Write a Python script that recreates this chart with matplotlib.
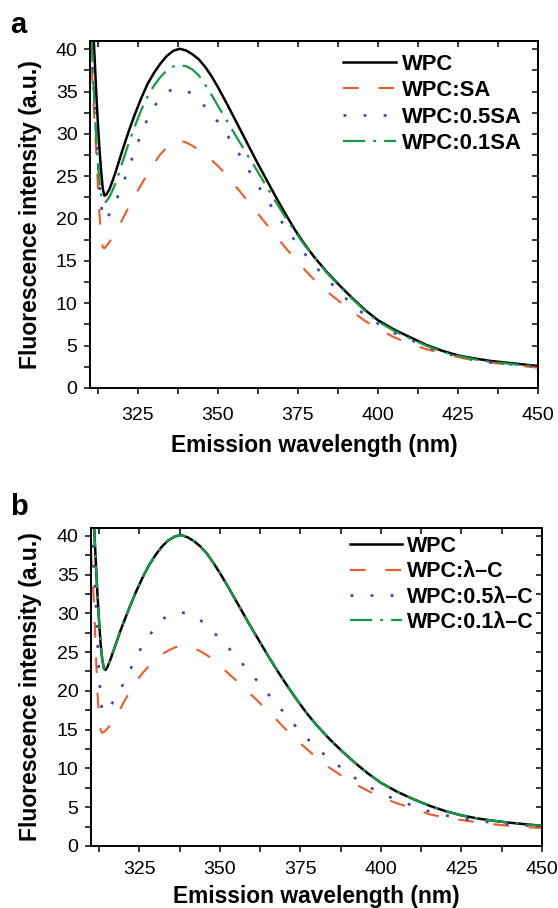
import matplotlib
matplotlib.use("Agg")
import matplotlib.pyplot as plt
from matplotlib.ticker import MultipleLocator

plt.rcParams['font.family'] = ['Liberation Sans', 'DejaVu Sans']

# ---------------- data ----------------
wavelength = [310, 310.5, 311, 311.5, 312, 312.5, 313, 313.5, 314, 314.5, 315,
              316, 317, 318, 319, 320, 322, 324, 326, 328, 330, 332, 334, 336,
              338, 340, 342, 344, 346, 348, 350, 353, 356, 359, 362, 365, 368,
              371, 374, 377, 380, 384, 388, 392, 396, 400, 405, 410, 415, 420,
              425, 430, 435, 440, 445, 450]

# Panel a
a_wpc = [52, 47, 42.5, 38.5, 34.5, 31, 28, 25.5, 23.5, 22.7, 22.8,
         23.4, 24.4, 25.5, 26.7, 27.9, 30.2, 32.3, 34.2, 35.9, 37.2, 38.3, 39.2, 39.8,
         40.05, 39.85, 39.4, 38.8, 37.9, 36.8, 35.5, 33.4, 31.2, 29.0, 26.8, 24.7, 22.6,
         20.6, 18.7, 17.0, 15.5, 13.7, 12.1, 10.6, 9.2, 8.0, 6.9, 6.0, 5.1, 4.4,
         3.85, 3.5, 3.2, 3.0, 2.8, 2.6]
a_sa = [42, 38, 34.5, 31, 27.5, 23.5, 20.3, 17.8, 16.6, 16.5, 16.7,
        17.2, 17.8, 18.4, 19.1, 19.8, 21.3, 22.7, 24.0, 25.3, 26.5, 27.6, 28.4, 29.0,
        29.2, 29.0, 28.6, 28.1, 27.6, 26.9, 26.2, 25.0, 23.6, 22.2, 20.8, 19.4, 18.0,
        16.6, 15.3, 14.0, 12.8, 11.4, 10.2, 9.0, 7.9, 7.0, 6.0, 5.2, 4.6, 4.1,
        3.65, 3.25, 3.0, 2.8, 2.6, 2.4]
a_05sa = [45, 40.5, 36.4, 33.2, 29.8, 26.5, 23.8, 21.6, 20.3, 19.8, 19.8,
          20.5, 21.2, 22.0, 22.9, 23.8, 25.9, 28.0, 30.0, 31.8, 33.2, 34.2, 34.9, 35.3,
          35.3, 35.1, 34.7, 34.0, 33.2, 32.4, 31.4, 29.8, 28.0, 26.1, 24.2, 22.4, 20.7,
          19.0, 17.4, 15.9, 14.5, 12.9, 11.3, 9.8, 8.6, 7.6, 6.5, 5.7, 4.9, 4.2,
          3.7, 3.3, 3.05, 2.85, 2.7, 2.55]
a_01sa = [46, 41, 36.5, 32.5, 29, 26.3, 24.2, 22.6, 22.0, 21.9, 22.0,
          22.5, 23.3, 24.2, 25.3, 26.5, 28.8, 30.9, 32.8, 34.4, 35.7, 36.7, 37.5, 37.95,
          38.1, 38.0, 37.6, 36.9, 35.8, 34.6, 33.3, 31.4, 29.5, 27.6, 25.8, 23.9, 22.0,
          20.2, 18.5, 16.9, 15.5, 13.6, 12.0, 10.5, 9.1, 7.85, 6.75, 5.85, 5.0, 4.3,
          3.8, 3.4, 3.1, 2.9, 2.7, 2.55]

# Panel b
b_wpc = [52, 46.5, 41, 36.5, 32.5, 29, 26, 24, 22.9, 22.7, 23.0,
         24.0, 25.2, 26.4, 27.6, 28.7, 30.8, 32.8, 34.6, 36.2, 37.5, 38.6, 39.4, 39.9,
         40.1, 39.8, 39.3, 38.6, 37.7, 36.5, 35.2, 33.1, 30.9, 28.7, 26.6, 24.5, 22.5,
         20.6, 18.8, 17.1, 15.6, 13.8, 12.2, 10.7, 9.35, 8.15, 7.0, 6.05, 5.2, 4.5,
         3.95, 3.55, 3.25, 3.0, 2.8, 2.6]
b_lc = [38, 34.5, 30.5, 25, 19.8, 16.6, 14.9, 14.6, 14.7, 14.9, 15.1,
        15.6, 16.2, 16.8, 17.6, 18.4, 19.9, 21.2, 22.3, 23.2, 24.0, 24.7, 25.2, 25.6,
        25.8, 25.7, 25.5, 25.1, 24.6, 24.0, 23.3, 22.1, 21.0, 19.8, 18.6, 17.4, 16.1,
        14.8, 13.6, 12.5, 11.4, 10.1, 9.0, 8.0, 7.1, 6.3, 5.5, 4.85, 4.1, 3.65,
        3.35, 3.05, 2.8, 2.6, 2.45, 2.3]
b_05lc = [44, 39, 35, 31.5, 26.5, 22, 18.8, 17.4, 17.2, 17.3, 17.5,
          18.0, 18.7, 19.4, 20.1, 20.9, 22.6, 24.3, 25.9, 27.1, 28.2, 29.2, 29.7, 30.0,
          30.1, 30.0, 29.6, 29.1, 28.4, 27.6, 26.7, 25.4, 24.0, 22.5, 21.1, 19.6, 18.1,
          16.7, 15.2, 13.9, 12.7, 11.2, 10.0, 8.75, 7.7, 6.8, 5.9, 5.2, 4.45, 3.95,
          3.55, 3.25, 3.0, 2.8, 2.65, 2.5]
b_01lc = [52, 46.5, 41, 36.5, 32.5, 29, 26, 24, 22.9, 22.7, 23.0,
          24.0, 25.2, 26.4, 27.6, 28.7, 30.8, 32.8, 34.6, 36.2, 37.5, 38.6, 39.4, 39.9,
          40.1, 39.8, 39.3, 38.6, 37.7, 36.5, 35.2, 33.1, 30.9, 28.7, 26.6, 24.5, 22.5,
          20.6, 18.8, 17.1, 15.6, 13.8, 12.2, 10.7, 9.35, 8.15, 7.0, 6.05, 5.2, 4.5,
          3.95, 3.55, 3.25, 3.0, 2.8, 2.6]

labels_a = ["WPC", "WPC:SA", "WPC:0.5SA", "WPC:0.1SA"]
labels_b = ["WPC", "WPC:\u03bb\u2013C", "WPC:0.5\u03bb\u2013C", "WPC:0.1\u03bb\u2013C"]
xticks = [325, 350, 375, 400, 425, 450]
yticks = [0, 5, 10, 15, 20, 25, 30, 35, 40]

# ---------------- style ----------------
BLACK = "#000000"
ORANGE = "#EE5A2A"
BLUE = "#3A47A8"
GREEN = "#16994A"

styles = [
    dict(color=BLACK, lw=1.8, ls='-'),
    dict(color=ORANGE, lw=1.5, dashes=(7.5, 9.5)),
    dict(color=BLUE, lw=1.9, dashes=(1.1, 6.5)),
    dict(color=GREEN, lw=1.6, dashes=(10, 3.6, 1.3, 3.6)),
]

W, H = 558, 908
fig = plt.figure(figsize=(W / 100, H / 100), dpi=100)


def px_rect(left, right, top, bottom):
    return [left / W, 1 - bottom / H, (right - left) / W, (bottom - top) / H]


def style_axes(ax, xpad):
    ax.set_xlim(310, 450)
    ax.set_ylim(0, 41)
    ax.set_xticks(xticks)
    ax.set_yticks(yticks)
    ax.xaxis.set_minor_locator(MultipleLocator(12.5))
    ax.yaxis.set_minor_locator(MultipleLocator(2.5))
    for s in ax.spines.values():
        s.set_linewidth(1.4)
    ax.tick_params(axis='both', which='both', direction='out', length=4,
                   width=1.1, labelsize=14, top=False, right=False)
    ax.tick_params(axis='x', which='major', pad=xpad)
    ax.tick_params(axis='y', which='major', pad=5)
    sx = ax.secondary_xaxis('top')
    sx.set_xticks(xticks)
    sx.xaxis.set_minor_locator(MultipleLocator(12.5))
    sx.tick_params(which='both', direction='in', length=4, width=1.1,
                   labeltop=False)
    sx.spines['top'].set_linewidth(1.4)
    sy = ax.secondary_yaxis('right')
    sy.set_yticks(yticks)
    sy.yaxis.set_minor_locator(MultipleLocator(2.5))
    sy.tick_params(which='both', direction='in', length=4, width=1.1,
                   labelright=False)
    sy.spines['right'].set_linewidth(1.4)
    ax.set_xlabel("Emission wavelength (nm)", fontsize=16.4, fontweight='bold')
    ax.set_ylabel("Fluorescence intensity (a.u.)", fontsize=16.5, fontweight='bold')


# Panel a
ax1 = fig.add_axes(px_rect(90, 538, 40.7, 388))
series_a = [a_wpc, a_sa, a_05sa, a_01sa]
for vals, lab, st in zip(series_a, labels_a, styles):
    ax1.plot(wavelength, vals, label=lab, **st)
style_axes(ax1, 9.5)
ax1.xaxis.set_label_coords(0.5, -0.133)
ax1.yaxis.set_label_coords(-0.108, 0.5)
ax1.legend(loc='upper left', bbox_to_anchor=(0.565, 0.963), frameon=False,
           prop=dict(size=15.8, weight='bold'), handlelength=2.4,
           handletextpad=0.3, labelspacing=0.25, borderpad=0,
           borderaxespad=0)
fig.text(10 / W, 1 - 33 / H, "a", fontsize=21, fontweight='bold')

# Panel b
ax2 = fig.add_axes(px_rect(91, 542, 528, 846))
series_b = [b_wpc, b_lc, b_05lc, b_01lc]
for vals, lab, st in zip(series_b, labels_b, styles):
    ax2.plot(wavelength, vals, label=lab, **st)
style_axes(ax2, 7)
ax2.xaxis.set_label_coords(0.5, -0.123)
ax2.yaxis.set_label_coords(-0.108, 0.5)
ax2.legend(loc='upper left', bbox_to_anchor=(0.575, 0.975), frameon=False,
           prop=dict(size=15.5, weight='bold'), handlelength=2.4,
           handletextpad=0.25, labelspacing=0.2, borderpad=0,
           borderaxespad=0)
fig.text(10 / W, 1 - 515 / H, "b", fontsize=21, fontweight='bold')

fig.savefig("out.png", dpi=100)
